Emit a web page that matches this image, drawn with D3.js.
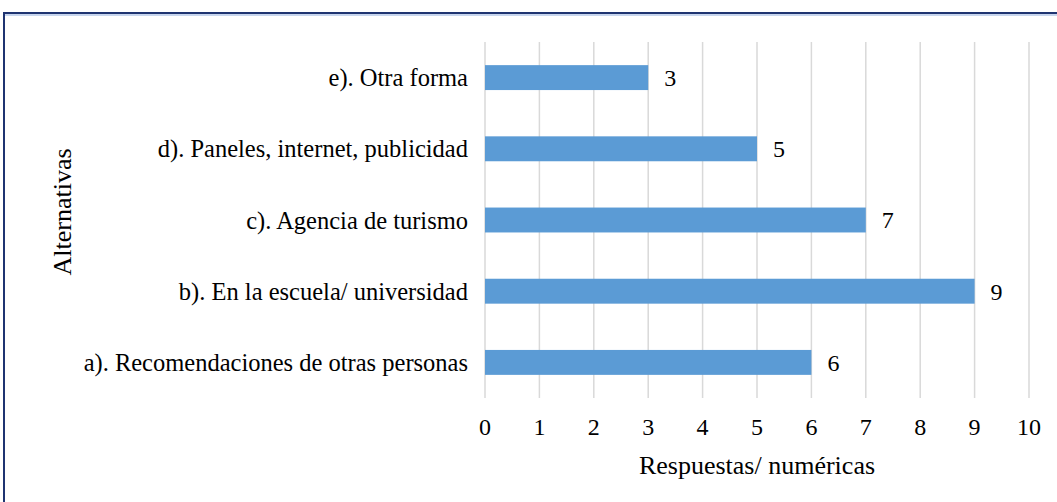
<!DOCTYPE html>
<html>
<head>
<meta charset="utf-8">
<script src="https://cdn.jsdelivr.net/npm/d3@7"></script>
<style>
  body { margin: 0; background: #fff; }
</style>
</head>
<body>
<svg id="chart" width="1057" height="502" font-family="'Liberation Serif', 'Times New Roman', serif"></svg>
<script>
// categories top to bottom, as drawn
const categories = [
    "e). Otra forma",
    "d). Paneles, internet, publicidad",
    "c). Agencia de turismo",
    "b). En la escuela/ universidad",
    "a). Recomendaciones de otras personas"
];
const values = [3, 5, 7, 9, 6];
const xTicks = [0, 1, 2, 3, 4, 5, 6, 7, 8, 9, 10];
const xLabel = "Respuestas/ numéricas";
const yLabel = "Alternativas";

const data = categories.map((c, i) => ({ name: c, value: values[i] }));

const svg = d3.select("#chart");
const margin = { left: 485, right: 28, top: 42, bottom: 104 };
const width = +svg.attr("width");
const height = +svg.attr("height");
const innerWidth = width - margin.left - margin.right;
const innerHeight = height - margin.top - margin.bottom;

/* frame, right and bottom sides run off the page like in the source */
svg.append("path")
    .attr("d", `M4,${height} V13 H${width}`)
    .attr("fill", "none")
    .attr("stroke", "#1f3471")
    .attr("stroke-width", 2);
svg.append("line")
    .attr("x1", 5).attr("x2", width)
    .attr("y1", 15).attr("y2", 15)
    .attr("stroke", "#b4c7e7")
    .attr("stroke-width", 1.5);

const g = svg.append("g")
    .attr("transform", `translate(${margin.left},${margin.top})`);

const xScale = d3.scaleLinear().domain([0, 10]).range([0, innerWidth]);
const yScale = d3.scaleBand().domain(categories).range([0, innerHeight]).paddingInner(0.65).paddingOuter(0.325);

/* gridlines */
g.append("g").selectAll("line").data(xTicks)
    .enter().append("line")
      .attr("x1", d => xScale(d)).attr("x2", d => xScale(d))
      .attr("y1", 0).attr("y2", innerHeight)
      .attr("stroke", "#d9d9d9")
      .attr("stroke-width", 1.5);

/* bars */
g.selectAll("rect.bar").data(data)
    .enter().append("rect")
      .attr("class", "bar")
      .attr("x", xScale(0))
      .attr("y", d => yScale(d.name))
      .attr("width", d => xScale(d.value) - xScale(0))
      .attr("height", yScale.bandwidth())
      .attr("fill", "#5b9bd5");

/* value labels */
g.selectAll("text.val").data(data)
    .enter().append("text")
      .attr("class", "val")
      .attr("x", d => xScale(d.value) + 16)
      .attr("y", d => yScale(d.name) + yScale.bandwidth() / 2)
      .attr("dy", "0.35em")
      .attr("font-size", 24)
      .text(d => d.value);

/* category labels */
g.selectAll("text.cat").data(categories)
    .enter().append("text")
      .attr("class", "cat")
      .attr("x", -17)
      .attr("y", d => yScale(d) + yScale.bandwidth() / 2)
      .attr("dy", "0.35em")
      .attr("text-anchor", "end")
      .attr("font-size", 24.5)
      .text(d => d);

/* x tick labels */
g.selectAll("text.tick").data(xTicks)
    .enter().append("text")
      .attr("class", "tick")
      .attr("x", d => xScale(d))
      .attr("y", innerHeight + 29)
      .attr("dy", "0.35em")
      .attr("text-anchor", "middle")
      .attr("font-size", 24)
      .text(d => d);

/* axis titles */
g.append("text")
    .attr("x", innerWidth / 2)
    .attr("y", innerHeight + 67)
    .attr("dy", "0.35em")
    .attr("text-anchor", "middle")
    .attr("font-size", 26)
    .text(xLabel);

svg.append("text")
    .attr("transform", `translate(62,${margin.top + innerHeight / 2 - 8}) rotate(-90)`)
    .attr("dy", "0.35em")
    .attr("text-anchor", "middle")
    .attr("font-size", 26)
    .text(yLabel);
</script>
</body>
</html>
